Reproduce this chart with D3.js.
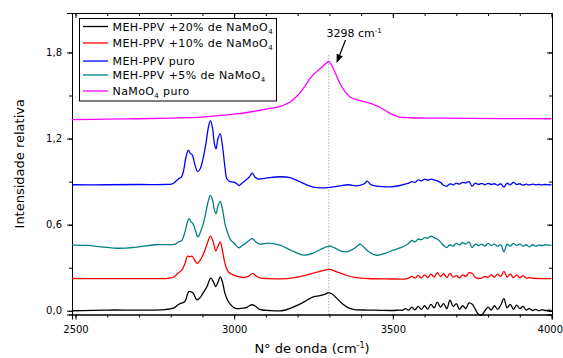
<!DOCTYPE html>
<html>
<head>
<meta charset="utf-8">
<script src="https://cdn.jsdelivr.net/npm/d3@7"></script>
<style>
  body { margin: 0; background: #fff; }
  svg text { font-family: "DejaVu Sans", Verdana, sans-serif; fill: #000; }
</style>
</head>
<body>
<div id="chart"></div>
<script>
// --- data (wavenumber in cm-1, relative intensity) ---
const seriesNames = ["MEH-PPV +20% de NaMoO4", "MEH-PPV +10% de NaMoO4", "MEH-PPV puro", "MEH-PPV +5% de NaMoO4", "NaMoO4 puro"];
const seriesColors = ["#000000", "#ff0000", "#0000ff", "#008080", "#ff00ff"];

const noiseWn = [3550, 3560, 3570, 3580, 3590, 3600, 3610, 3620, 3630, 3640, 3650, 3660, 3670, 3680, 3690, 3700, 3710, 3720, 3730, 3740, 3750, 3760, 3770, 3780, 3790, 3800, 3810, 3820, 3830, 3840, 3850, 3860, 3870, 3880, 3890, 3900, 3910, 3920, 3930, 3940, 3950, 3960, 3970, 3980, 3990, 4000];

const wn20 = [2489, 2600, 2700, 2780, 2810, 2822, 2832, 2845, 2852, 2858, 2866, 2872, 2882, 2892, 2901, 2914, 2926, 2935, 2942, 2949, 2956, 2963, 2971, 2980, 2990, 3000, 3010, 3025, 3040, 3055, 3068, 3080, 3110, 3150, 3180, 3210, 3230, 3250, 3270, 3285, 3298, 3310, 3322, 3340, 3360, 3380, 3420, 3460, 3500, 3520, 3530, 3540].concat(noiseWn);
const int20 = [0.0, 0.005, 0.005, 0.008, 0.02, 0.04, 0.052, 0.065, 0.11, 0.135, 0.13, 0.12, 0.076, 0.09, 0.12, 0.167, 0.228, 0.2, 0.168, 0.2, 0.236, 0.2, 0.121, 0.07, 0.04, 0.02, 0.015, 0.018, 0.024, 0.042, 0.03, 0.01, 0.002, 0.0, 0.02, 0.05, 0.075, 0.097, 0.105, 0.115, 0.126, 0.115, 0.09, 0.05, 0.02, 0.008, 0.005, 0.003, 0.002, 0.005, 0.003, 0.015,
  0.004, 0.025, 0.006, 0.03, 0.01, 0.035, 0.012, 0.045, 0.02, 0.06, 0.025, 0.05, 0.015, 0.074, 0.03, 0.05, 0.01, 0.035, 0.015, 0.055, 0.045, 0.01, -0.025, -0.03, 0.0, 0.025, 0.005, 0.035, 0.01, 0.04, 0.085, 0.02, 0.045, 0.01, 0.04, 0.015, 0.03, 0.005, 0.015, 0.002, 0.01, 0.0, 0.008, 0.002, 0.005, 0.003];

const wn10 = [2489, 2600, 2700, 2790, 2810, 2822, 2835, 2845, 2853, 2860, 2868, 2876, 2884, 2892, 2902, 2914, 2925, 2934, 2942, 2949, 2956, 2963, 2971, 2982, 2995, 3010, 3030, 3045, 3058, 3068, 3080, 3110, 3150, 3200, 3250, 3280, 3300, 3320, 3350, 3380, 3420, 3480, 3540].concat(noiseWn);
const int10 = [0.225, 0.224, 0.224, 0.226, 0.235, 0.26, 0.283, 0.33, 0.38, 0.378, 0.38, 0.35, 0.33, 0.35, 0.39, 0.46, 0.52, 0.48, 0.418, 0.45, 0.48, 0.42, 0.33, 0.27, 0.252, 0.24, 0.232, 0.24, 0.26, 0.245, 0.23, 0.224, 0.222, 0.235, 0.262, 0.28, 0.288, 0.275, 0.25, 0.232, 0.225, 0.222, 0.222,
  0.228, 0.24, 0.228, 0.245, 0.23, 0.25, 0.232, 0.255, 0.235, 0.265, 0.24, 0.258, 0.232, 0.26, 0.235, 0.245, 0.23, 0.25, 0.24, 0.265, 0.26, 0.232, 0.225, 0.228, 0.24, 0.232, 0.25, 0.235, 0.255, 0.24, 0.275, 0.235, 0.255, 0.232, 0.25, 0.23, 0.245, 0.228, 0.232, 0.226, 0.225, 0.225, 0.224, 0.225, 0.224, 0.224];

const wnPuro = [2489, 2600, 2700, 2780, 2805, 2815, 2825, 2833, 2840, 2848, 2856, 2862, 2868, 2876, 2885, 2893, 2902, 2912, 2918, 2925, 2932, 2938, 2943, 2949, 2956, 2963, 2971, 2977, 2987, 2999, 3008, 3015, 3025, 3035, 3047, 3057, 3066, 3076, 3100, 3145, 3176, 3208, 3249, 3281, 3323, 3360, 3386, 3410, 3419, 3430, 3449, 3491, 3522, 3543].concat(noiseWn);
const intPuro = [0.878, 0.878, 0.88, 0.88, 0.885, 0.9, 0.92, 0.93, 0.97, 1.07, 1.12, 1.095, 1.087, 1.02, 0.97, 0.99, 1.06, 1.18, 1.27, 1.325, 1.27, 1.16, 1.128, 1.2, 1.233, 1.15, 1.0, 0.92, 0.9, 0.896, 0.885, 0.873, 0.89, 0.908, 0.93, 0.959, 0.93, 0.918, 0.924, 0.934, 0.928, 0.898, 0.862, 0.857, 0.867, 0.878, 0.871, 0.885, 0.903, 0.88, 0.869, 0.864, 0.873, 0.885,
  0.89, 0.9, 0.895, 0.912, 0.905, 0.918, 0.91, 0.917, 0.912, 0.905, 0.895, 0.875, 0.868, 0.885, 0.878, 0.89, 0.883, 0.895, 0.89, 0.9, 0.868, 0.89, 0.88, 0.888, 0.878, 0.888, 0.88, 0.885, 0.875, 0.885, 0.862, 0.89, 0.878, 0.895, 0.88, 0.885, 0.875, 0.882, 0.877, 0.882, 0.878, 0.88, 0.877, 0.88, 0.878, 0.879];

const wn5 = [2489, 2540, 2580, 2620, 2650, 2700, 2750, 2800, 2815, 2825, 2835, 2845, 2853, 2858, 2864, 2870, 2878, 2886, 2894, 2902, 2912, 2918, 2925, 2932, 2938, 2943, 2949, 2956, 2963, 2971, 2980, 2990, 3000, 3015, 3025, 3035, 3047, 3057, 3068, 3080, 3110, 3145, 3180, 3218, 3245, 3270, 3290, 3302, 3315, 3335, 3354, 3375, 3390, 3398, 3410, 3425, 3449, 3475, 3501, 3525, 3540].concat(noiseWn);
const int5 = [0.457, 0.455, 0.445, 0.437, 0.436, 0.445, 0.46, 0.461, 0.465, 0.48, 0.49, 0.55, 0.62, 0.642, 0.62, 0.607, 0.56, 0.515, 0.55, 0.6, 0.7, 0.76, 0.804, 0.77, 0.7, 0.677, 0.73, 0.762, 0.71, 0.607, 0.54, 0.49, 0.47, 0.438, 0.455, 0.468, 0.49, 0.503, 0.48, 0.465, 0.472, 0.457, 0.42, 0.388, 0.398, 0.425, 0.445, 0.45, 0.44, 0.418, 0.41, 0.43, 0.455, 0.465, 0.44, 0.41, 0.387, 0.4, 0.422, 0.44, 0.455,
  0.47, 0.49, 0.48, 0.5, 0.495, 0.51, 0.505, 0.52, 0.51, 0.5, 0.48, 0.455, 0.44, 0.46, 0.45, 0.47, 0.46, 0.475, 0.465, 0.48, 0.44, 0.465, 0.455, 0.465, 0.45, 0.47, 0.455, 0.465, 0.45, 0.46, 0.41, 0.465, 0.45, 0.47, 0.455, 0.465, 0.45, 0.46, 0.445, 0.46, 0.45, 0.458, 0.455, 0.46, 0.457, 0.458];

const wnMo = [2489, 2600, 2700, 2800, 2900, 2950, 3000, 3050, 3100, 3145, 3176, 3200, 3218, 3235, 3249, 3262, 3275, 3290, 3298, 3307, 3320, 3334, 3350, 3365, 3390, 3418, 3440, 3459, 3480, 3501, 3522, 3554, 3600, 3669, 3750, 3850, 4000];
const intMo = [1.332, 1.335, 1.338, 1.343, 1.35, 1.36, 1.37, 1.385, 1.405, 1.425, 1.455, 1.5, 1.55, 1.605, 1.645, 1.67, 1.695, 1.725, 1.738, 1.712, 1.65, 1.58, 1.525, 1.49, 1.468, 1.452, 1.437, 1.418, 1.39, 1.365, 1.35, 1.345, 1.343, 1.342, 1.34, 1.339, 1.338];

const xTicks = [2500, 3000, 3500, 4000];
const yTicks = [0, 0.6, 1.2, 1.8];
const peakWn = 3298;
const peakLabel = "3298 cm";

const seriesWn = [wn20, wn10, wnPuro, wn5, wnMo];
const seriesInt = [int20, int10, intPuro, int5, intMo];

// --- layout ---
const W = 563, H = 358;
const plotL = 72, plotR = 552, plotT = 13, plotB = 314.5;

const svg = d3.select("#chart").append("svg")
    .attr("width", W)
    .attr("height", H);

const x = d3.scaleLinear().domain([2489, 4001.5]).range([plotL, plotR]);
const y = d3.scaleLinear().domain([-0.026, 2.075]).range([plotB, plotT]);

const fmt = d => d3.format(".1f")(d).replace(".", ",");
const minorX = d3.range(2500, 4001, 100);
const minorY = d3.range(0, 2.01, 0.3);

// minor ticks first, then major with labels
svg.append("g").attr("transform", `translate(0,${plotB})`)
    .call(d3.axisBottom(x).tickValues(minorX).tickSize(3).tickFormat(""));
const xAxisG = svg.append("g").attr("transform", `translate(0,${plotB})`)
    .call(d3.axisBottom(x).tickValues(xTicks).tickSize(5).tickPadding(6).tickFormat(d3.format("d")));
// last label sits on the page edge: keep it inside
xAxisG.selectAll(".tick text").filter(d => d === 4000)
    .attr("text-anchor", "end").attr("x", 11);

svg.append("g").attr("transform", `translate(0,${plotT})`)
    .call(d3.axisBottom(x).tickValues(minorX).tickSize(3).tickFormat(""));
svg.append("g").attr("transform", `translate(0,${plotT})`)
    .call(d3.axisBottom(x).tickValues(xTicks).tickSize(5).tickFormat(""));

svg.append("g").attr("transform", `translate(${plotL},0)`)
    .call(d3.axisLeft(y).tickValues(minorY).tickSize(3).tickFormat(""));
svg.append("g").attr("transform", `translate(${plotL},0)`)
    .call(d3.axisLeft(y).tickValues(yTicks).tickSize(5).tickPadding(5).tickFormat(fmt));
svg.append("g").attr("transform", `translate(${plotR},0)`)
    .call(d3.axisLeft(y).tickValues(minorY).tickSize(3).tickFormat(""));
svg.append("g").attr("transform", `translate(${plotR},0)`)
    .call(d3.axisLeft(y).tickValues(yTicks).tickSize(5).tickFormat(""));

svg.selectAll(".domain").attr("stroke", "#000").attr("stroke-width", 1);
svg.selectAll(".tick line").attr("stroke", "#000");
svg.selectAll(".tick text").style("font-size", "10px").attr("fill", "#000");

// dotted marker at the peak
svg.append("line")
    .attr("x1", x(peakWn)).attr("x2", x(peakWn))
    .attr("y1", y(1.78)).attr("y2", plotB)
    .attr("stroke", "#666")
    .attr("stroke-width", 0.8)
    .attr("stroke-dasharray", "1,2");

// spectra
const line = d3.line()
    .x(d => x(d[0]))
    .y(d => y(d[1]))
    .curve(d3.curveCatmullRom.alpha(0.5));

svg.append("g").selectAll("path")
    .data(seriesNames.map((name, i) => seriesWn[i].map((w, j) => [w, seriesInt[i][j]])))
    .join("path")
    .attr("d", line)
    .attr("fill", "none")
    .attr("stroke", (d, i) => seriesColors[i])
    .attr("stroke-width", 1.3)
    .attr("stroke-linejoin", "round");

// annotation
svg.append("defs").append("marker")
    .attr("id", "arrow")
    .attr("viewBox", "0 0 10 10")
    .attr("refX", 9).attr("refY", 5)
    .attr("markerWidth", 7).attr("markerHeight", 7)
    .attr("orient", "auto")
    .append("path")
    .attr("d", "M0,1 L10,5 L0,9 Z")
    .attr("fill", "#000");

svg.append("line")
    .attr("x1", 345.5).attr("y1", 40)
    .attr("x2", 337).attr("y2", 62)
    .attr("stroke", "#000")
    .attr("stroke-width", 1.2)
    .attr("marker-end", "url(#arrow)");

const ann = svg.append("text")
    .attr("x", 326.5).attr("y", 37)
    .style("font-size", "11px");
ann.append("tspan").text(peakLabel);
ann.append("tspan").attr("dy", -4).style("font-size", "7px").text("-1");

// legend
const legend = svg.append("g");
legend.append("rect")
    .attr("x", 79.5).attr("y", 18.5)
    .attr("width", 197).attr("height", 82.5)
    .attr("fill", "#fff")
    .attr("stroke", "#000")
    .attr("stroke-width", 1);

const rowY = [26.5, 43, 61, 75, 91];
seriesNames.forEach((name, i) => {
    legend.append("line")
        .attr("x1", 83).attr("x2", 108)
        .attr("y1", rowY[i]).attr("y2", rowY[i])
        .attr("stroke", seriesColors[i])
        .attr("stroke-width", 1.3);
    const t = legend.append("text")
        .attr("x", 112.5).attr("y", rowY[i] + 4)
        .style("font-size", "11px")
        .style("letter-spacing", "0.4px");
    if (name.endsWith("NaMoO4")) {
        t.append("tspan").text(name.slice(0, -1));
        t.append("tspan").attr("dy", 3).style("font-size", "7px").text("4");
    } else if (name.startsWith("NaMoO4")) {
        t.append("tspan").text("NaMoO");
        t.append("tspan").attr("dy", 3).style("font-size", "7px").text("4");
        t.append("tspan").attr("dy", -3).text(name.slice(6));
    } else {
        t.text(name);
    }
});

// axis titles
svg.append("text")
    .attr("transform", `translate(24,${(plotT + plotB) / 2}) rotate(-90)`)
    .attr("text-anchor", "middle")
    .style("font-size", "13px")
    .text("Intensidade relativa");

const xt = svg.append("text")
    .attr("x", (plotL + plotR) / 2).attr("y", 353)
    .attr("text-anchor", "middle")
    .style("font-size", "13px");
xt.append("tspan").text("N° de onda (cm");
xt.append("tspan").attr("dy", -5).style("font-size", "8px").text("-1");
xt.append("tspan").attr("dy", 5).text(")");
</script>
</body>
</html>
